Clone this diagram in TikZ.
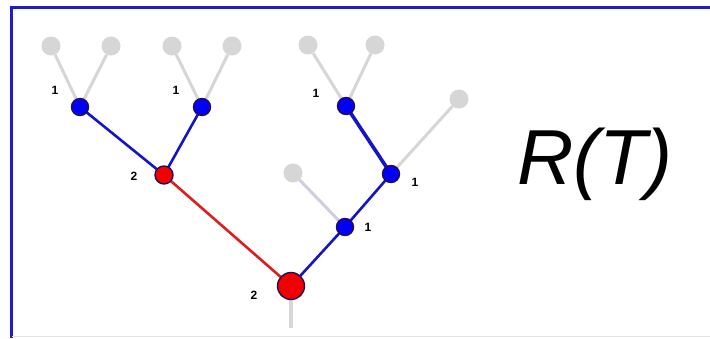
\documentclass[tikz,border=0pt]{standalone}
\usepackage{fontspec}
\setmainfont{Liberation Sans}
\definecolor{frameblue}{RGB}{30,30,200}
\definecolor{nodeblue}{RGB}{0,0,250}
\definecolor{edgeblue}{RGB}{20,20,200}
\definecolor{nodered}{RGB}{240,0,0}
\definecolor{edgered}{RGB}{220,30,30}
\definecolor{rim}{RGB}{35,15,80}
\definecolor{leafgray}{RGB}{214,214,214}
\definecolor{palelav}{RGB}{205,205,228}
\begin{document}
\begin{tikzpicture}[x=1pt,y=-1pt,
  leaf/.style={circle,fill=leafgray,inner sep=0pt,minimum size=19pt},
  bnode/.style={circle,fill=nodeblue,draw=rim,line width=1.4pt,inner sep=0pt,minimum size=17pt},
  rnode/.style={circle,fill=nodered,draw=rim,line width=1.4pt,inner sep=0pt,minimum size=#1},
  grayedge/.style={leafgray,line width=3pt},
  blueedge/.style={edgeblue,line width=2.6pt},
  rededge/.style={edgered,line width=2.6pt},
  num/.style={font=\fontsize{12}{14}\selectfont\bfseries,inner sep=0pt}]
\useasboundingbox (0,0) rectangle (710,338);
\fill[white] (0,0) rectangle (710,338);
% frame
\draw[frameblue,line width=2.6pt] (11.5,338) -- (11.5,7.5) -- (710,7.5);
\draw[palelav!60,line width=1pt] (12,336.5) -- (710,336.5);

% leaves
\node[leaf] (l1) at (51,46) {};
\node[leaf] (l2) at (111,46) {};
\node[leaf] (l3) at (172,46) {};
\node[leaf] (l4) at (232,46) {};
\node[leaf] (l5) at (308,45) {};
\node[leaf] (l6) at (375,45) {};
\node[leaf] (l7) at (459,99) {};
\node[leaf] (l8) at (293,173) {};
\coordinate (stem) at (291,328);

% inner node positions
\coordinate (pa) at (80,107);
\coordinate (pb) at (202,107);
\coordinate (pc) at (346,106);
\coordinate (pd) at (391,174);
\coordinate (pe) at (345,227);
\coordinate (pf) at (164,175);
\coordinate (pg) at (291,286);

% edges
\draw[grayedge] (l1) -- (pa);
\draw[grayedge] (l2) -- (pa);
\draw[grayedge] (l3) -- (pb);
\draw[grayedge] (l4) -- (pb);
\draw[grayedge] (l5) -- (pc);
\draw[grayedge] (l6) -- (pc);
\draw[grayedge] (l7) -- (pd);
\draw[palelav,line width=3pt] (l8) -- (pe);
\draw[leafgray,line width=4pt] (pg) -- (stem);
\draw[blueedge] (pa) -- (pf);
\draw[blueedge] (pb) -- (pf);
\draw[edgeblue,line width=3.6pt] (pc) -- (pd);
\draw[blueedge] (pd) -- (pe);
\draw[blueedge] (pe) -- (pg);
\draw[rededge] (pf) -- (pg);

% nodes
\node[bnode] (a) at (pa) {};
\node[bnode] (b) at (pb) {};
\node[bnode] (c) at (pc) {};
\node[bnode] (d) at (pd) {};
\node[bnode] (e) at (pe) {};
\node[rnode=18pt] (f) at (pf) {};
\node[rnode=27pt] (g) at (pg) {};

% labels
\node[num] (ta) at (55,90) {1};
\node[num] (tb) at (176,90) {1};
\node[num] (tc) at (316,93) {1};
\node[num] (td) at (415,182) {1};
\node[num] (te) at (368,227) {1};
\node[num] (tf) at (134,176) {2};
\node[num] (tg) at (254,295) {2};

% title
\node[font=\fontsize{78}{80}\selectfont\itshape,inner sep=0pt,anchor=base] (title) at (595,184) {R(T)};
\end{tikzpicture}
\end{document}
